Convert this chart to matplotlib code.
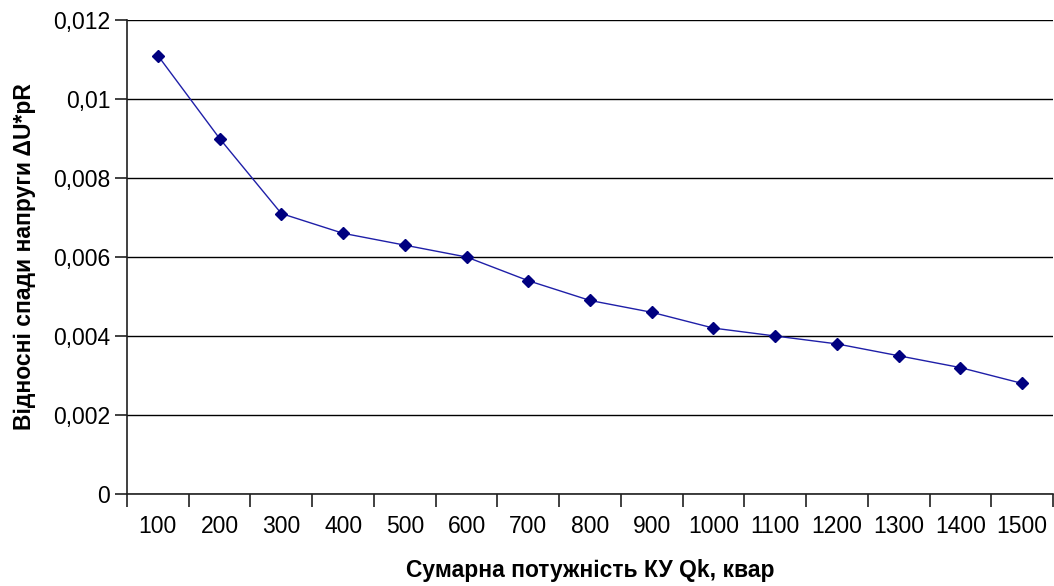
import matplotlib
matplotlib.use("Agg")
import matplotlib.pyplot as plt
from matplotlib.ticker import FuncFormatter

# data
categories = ['100', '200', '300', '400', '500', '600', '700', '800',
              '900', '1000', '1100', '1200', '1300', '1400', '1500']
values = [0.0111, 0.0090, 0.0071, 0.0066, 0.0063, 0.0060, 0.0054, 0.0049,
          0.0046, 0.0042, 0.0040, 0.0038, 0.0035, 0.0032, 0.0028]
y_ticks = [0, 0.002, 0.004, 0.006, 0.008, 0.010, 0.012]

plt.rcParams['font.family'] = ['Liberation Sans', 'DejaVu Sans']

fig = plt.figure(figsize=(10.54, 5.86), dpi=100)
ax = fig.add_axes([127/1054, 1 - 494/586, 926/1054, 474/586])

x = list(range(len(categories)))
ax.plot(x, values, color='#1f1fa8', linewidth=1, marker='D', markersize=6,
        markerfacecolor='#000080', markeredgecolor='#000080')

ax.set_xlim(-0.5, len(categories) - 0.5)
ax.set_ylim(0, 0.012)
ax.set_yticks(y_ticks)
ax.yaxis.set_major_formatter(FuncFormatter(lambda v, p: ('%g' % round(v, 3)).replace('.', ',')))

# category axis: ticks between categories, labels centred
ax.set_xticks([i - 0.5 for i in range(len(categories) + 1)])
ax.set_xticklabels([])
ax.set_xticks(x, minor=True)
ax.set_xticklabels(categories, minor=True)
ax.tick_params(axis='x', which='major', direction='out', length=9, width=1.2, color='#202020')
ax.tick_params(axis='x', which='minor', length=0, pad=15, labelsize=16.5)
ax.tick_params(axis='y', direction='out', length=9, width=1.2, color='#202020', labelsize=16.5, pad=3)

ax.grid(axis='y', color='black', linewidth=1)
ax.set_axisbelow(True)
for s in ['top', 'right']:
    ax.spines[s].set_visible(False)
for s in ['left', 'bottom']:
    ax.spines[s].set_color('#202020')
    ax.spines[s].set_linewidth(1.2)

ax.set_xlabel('Сумарна потужність КУ Qk, квар', fontsize=16.5, fontweight='bold', labelpad=15)
ax.set_ylabel('Відносні спади напруги ΔU*pR', fontsize=16.5, fontweight='bold', labelpad=12)

fig.savefig('out.png', dpi=100)
